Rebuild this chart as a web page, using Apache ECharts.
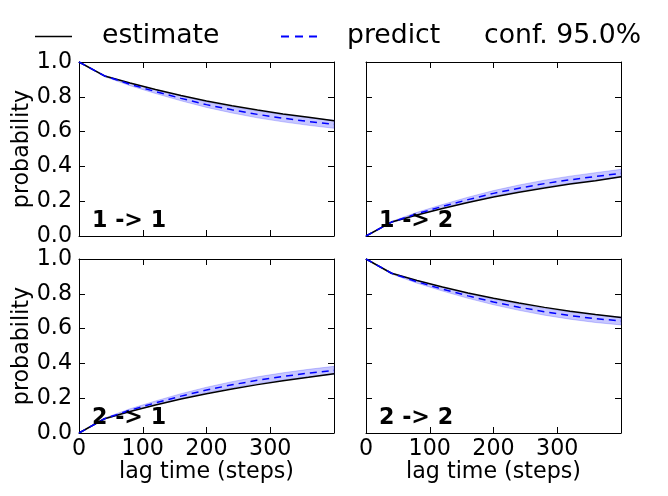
<!DOCTYPE html>
<html><head><meta charset="utf-8">
<script src="https://cdn.jsdelivr.net/npm/echarts@6/dist/echarts.min.js"></script>
<style>html,body{margin:0;padding:0;background:#fff}#c{width:668px;height:496px}</style>
</head><body><div id="c"></div>
<script>
var lags = [0, 40, 80, 120, 160, 200, 240, 280, 320, 360, 400];
var panelLabels = ['1 -> 1', '1 -> 2', '2 -> 1', '2 -> 2'];
var est11 = [1.0, 0.920, 0.879, 0.842, 0.808, 0.776, 0.748, 0.724, 0.701, 0.682, 0.663];
var pred11 = [1.0, 0.920, 0.872, 0.830, 0.791, 0.755, 0.725, 0.699, 0.677, 0.658, 0.642];
var est12 = [0.0, 0.080, 0.121, 0.158, 0.192, 0.224, 0.252, 0.276, 0.299, 0.318, 0.341];
var pred12 = [0.0, 0.080, 0.128, 0.170, 0.209, 0.245, 0.275, 0.301, 0.323, 0.342, 0.360];
var est21 = [0.0, 0.082, 0.124, 0.161, 0.195, 0.226, 0.253, 0.278, 0.300, 0.320, 0.341];
var pred21 = [0.0, 0.082, 0.131, 0.173, 0.212, 0.247, 0.277, 0.303, 0.325, 0.344, 0.360];
var est22 = [1.0, 0.918, 0.876, 0.839, 0.805, 0.774, 0.747, 0.722, 0.700, 0.681, 0.664];
var pred22 = [1.0, 0.918, 0.869, 0.827, 0.788, 0.753, 0.723, 0.697, 0.675, 0.657, 0.644];
var confHalf = [0.0, 0.004, 0.008, 0.011, 0.014, 0.016, 0.018, 0.020, 0.021, 0.022, 0.023];
var xTicks = [0, 100, 200, 300, 400];
var yTicks = [0.0, 0.2, 0.4, 0.6, 0.8, 1.0];

var estimates = [est11, est12, est21, est22];
var predicts = [pred11, pred12, pred21, pred22];

var FONT = 'DejaVu Sans';
var FS = 22.2, LFS = 26.7;
var gridPos = [
  {left: 79, top: 62, width: 255, height: 174},
  {left: 366, top: 62, width: 255, height: 174},
  {left: 79, top: 259, width: 255, height: 174},
  {left: 366, top: 259, width: 255, height: 174}
];
var grids = [], xAxes = [], yAxes = [], series = [], titles = [];
function pairs(ys) { return lags.map(function (x, i) { return [x, ys[i]]; }); }
var lineAx = {show: true, onZero: false, lineStyle: {color: '#000', width: 1}};
var tickAx = {show: true, inside: true, length: 6, lineStyle: {color: '#000', width: 1}};
function bandRenderer(lo, hi) {
  return function (params, api) {
    var pts = [], i;
    for (i = 0; i < lags.length; i++) pts.push(api.coord([lags[i], hi[i]]));
    for (i = lags.length - 1; i >= 0; i--) pts.push(api.coord([lags[i], lo[i]]));
    return {type: 'polygon', shape: {points: pts},
      style: {fill: 'rgba(0,0,255,0.22)', stroke: 'rgba(0,0,255,0.25)', lineWidth: 0.8}};
  };
}
for (var p = 0; p < 4; p++) {
  grids.push(Object.assign({containLabel: false}, gridPos[p]));
  var bottomRow = p >= 2, leftCol = (p % 2) === 0;
  var xBase = {type: 'value', gridIndex: p, min: xTicks[0], max: xTicks[xTicks.length - 1], interval: xTicks[1] - xTicks[0],
    axisLine: lineAx, axisTick: tickAx, splitLine: {show: false}};
  xAxes.push(Object.assign({}, xBase, {position: 'bottom',
    axisLabel: {show: bottomRow, showMaxLabel: false, color: '#000', fontFamily: FONT, fontSize: FS, margin: 5},
    name: bottomRow ? 'lag time (steps)' : '', nameLocation: 'middle', nameGap: 24,
    nameTextStyle: {color: '#000', fontFamily: FONT, fontSize: FS}}));
  xAxes.push(Object.assign({}, xBase, {position: 'top', axisLabel: {show: false}}));
  var yBase = {type: 'value', gridIndex: p, min: yTicks[0], max: yTicks[yTicks.length - 1], interval: yTicks[1] - yTicks[0],
    axisLine: lineAx, axisTick: tickAx, splitLine: {show: false}};
  yAxes.push(Object.assign({}, yBase, {position: 'left',
    axisLabel: {show: leftCol, color: '#000', fontFamily: FONT, fontSize: FS, margin: 7,
      formatter: function (v) { return v.toFixed(1); }},
    name: leftCol ? 'probability' : '', nameLocation: 'middle', nameGap: 46,
    nameTextStyle: {color: '#000', fontFamily: FONT, fontSize: FS}}));
  yAxes.push(Object.assign({}, yBase, {position: 'right', axisLabel: {show: false}}));
  var xi = p * 2, yi = p * 2;
  var pr = predicts[p];
  var lo = pr.map(function (v, i) { return v - confHalf[i]; });
  var hi = pr.map(function (v, i) { return v + confHalf[i]; });
  series.push({type: 'custom', name: 'conf. 95.0%', xAxisIndex: xi, yAxisIndex: yi,
    data: [[lags[0], pr[0]]], renderItem: bandRenderer(lo, hi), silent: true, z: 1,
    itemStyle: {color: 'rgba(0,0,255,0.22)'}});
  series.push({type: 'line', name: 'estimate', xAxisIndex: xi, yAxisIndex: yi, data: pairs(estimates[p]),
    symbol: 'none', lineStyle: {color: '#000', width: 1.5}, itemStyle: {color: '#000'}, z: 3});
  series.push({type: 'line', name: 'predict', xAxisIndex: xi, yAxisIndex: yi, data: pairs(pr),
    symbol: 'none', lineStyle: {color: '#0000ff', width: 1.5, type: [7, 5]}, itemStyle: {color: '#0000ff'}, z: 4});
  titles.push({text: panelLabels[p], left: gridPos[p].left + 13, top: gridPos[p].top + 148, padding: 0,
    textStyle: {color: '#000', fontFamily: FONT, fontSize: FS, fontWeight: 'bold'}});
}
var legText = {color: '#000', fontFamily: FONT, fontSize: LFS};
var option = {
  animation: false,
  backgroundColor: '#fff',
  title: titles,
  legend: [
    {data: [{name: 'estimate', icon: 'rect'}], left: 35, top: 23, itemWidth: 37, itemHeight: 1.5, padding: 0,
      textStyle: Object.assign({padding: [0, 0, 0, 25]}, legText)},
    {data: [{name: 'predict', icon: 'path://M0,0h8v2h-8z M14,0h8v2h-8z M28,0h8v2h-8z'}], left: 281, top: 23, itemWidth: 36, itemHeight: 2, padding: 0,
      textStyle: Object.assign({padding: [0, 0, 0, 25]}, legText)},
    {data: [{name: 'conf. 95.0%', icon: 'rect', itemStyle: {opacity: 0}}], left: 469, top: 23, itemWidth: 10, itemHeight: 2, padding: 0,
      textStyle: legText}
  ],
  grid: grids,
  xAxis: xAxes,
  yAxis: yAxes,
  series: series
};
var chart = echarts.init(document.getElementById('c'), null, {renderer: 'canvas'});
chart.setOption(option);
</script></body></html>
